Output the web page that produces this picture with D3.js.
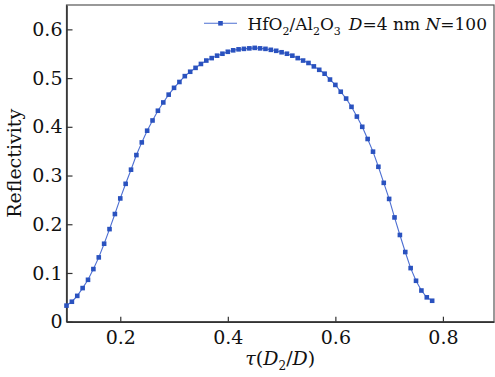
<!DOCTYPE html>
<html>
<head>
<meta charset="utf-8">
<script src="https://cdn.jsdelivr.net/npm/d3@7"></script>
<style>
  body { margin: 0; background: #fff; }
  text { font-family: "DejaVu Serif", "Liberation Serif", serif; }
</style>
</head>
<body>
<div id="chart"></div>
<script>
// data
const tau = [0.10, 0.11, 0.12, 0.13, 0.14, 0.15, 0.16, 0.17, 0.18, 0.19,
    0.20, 0.21, 0.22, 0.23, 0.24, 0.25, 0.26, 0.27, 0.28, 0.29,
    0.30, 0.31, 0.32, 0.33, 0.34, 0.35, 0.36, 0.37, 0.38, 0.39,
    0.40, 0.41, 0.42, 0.43, 0.44, 0.45, 0.46, 0.47, 0.48, 0.49,
    0.50, 0.51, 0.52, 0.53, 0.54, 0.55, 0.56, 0.57, 0.58, 0.59,
    0.60, 0.61, 0.62, 0.63, 0.64, 0.65, 0.66, 0.67, 0.68, 0.69,
    0.70, 0.71, 0.72, 0.73, 0.74, 0.75, 0.76, 0.77, 0.78];
const reflectivity = [0.033, 0.041, 0.053, 0.069, 0.086, 0.108, 0.132, 0.160, 0.190, 0.221,
    0.253, 0.283, 0.312, 0.342, 0.368, 0.392, 0.413, 0.433, 0.450, 0.466,
    0.480, 0.492, 0.504, 0.513, 0.521, 0.529, 0.536, 0.541, 0.546, 0.550,
    0.554, 0.557, 0.559, 0.560, 0.561, 0.562, 0.561, 0.560, 0.558, 0.556,
    0.553, 0.550, 0.546, 0.541, 0.536, 0.531, 0.524, 0.517, 0.509, 0.497,
    0.486, 0.472, 0.458, 0.441, 0.421, 0.400, 0.375, 0.349, 0.318, 0.285,
    0.252, 0.214, 0.178, 0.143, 0.110, 0.084, 0.064, 0.050, 0.043];
const xTicks = [0.2, 0.4, 0.6, 0.8];
const yTicks = [0, 0.1, 0.2, 0.3, 0.4, 0.5, 0.6];

const width = 495;
const height = 377;
const margin = {t: 5, b: 55.3, l: 66.5, r: 1};
const lineColor = "#4d6fd2";
const markColor = "#2a52bf";
const serif = "'DejaVu Serif', 'Liberation Serif', serif";

const svg = d3.select("#chart")
    .append("svg")
    .attr("width", width)
    .attr("height", height)
    .attr("viewBox", [0, 0, width, height]);

const data = tau.map((t, i) => ({x: t, y: reflectivity[i]}));

const xScale = d3.scaleLinear()
    .domain([0.1, 0.895])
    .range([margin.l, width - margin.r]);
const yScale = d3.scaleLinear()
    .domain([0, 0.65])
    .range([height - margin.b, margin.t]);

const fmt = d => d === 0 ? "0" : d3.format(".1f")(d);

//frame
svg.append("rect")
    .attr("x", margin.l)
    .attr("y", margin.t)
    .attr("width", width - margin.r - margin.l)
    .attr("height", height - margin.b - margin.t)
    .attr("fill", "none")
    .attr("stroke", "#555")
    .attr("stroke-width", 1.2);

//x axis
const x_axis = d3.axisBottom(xScale)
    .tickValues(xTicks)
    .tickFormat(fmt)
    .tickSizeInner(-5)
    .tickSizeOuter(0)
    .tickPadding(5);
const gx = svg.append("g")
    .attr("transform", `translate(0, ${height - margin.b})`)
    .call(x_axis);

//y axis
const y_axis = d3.axisLeft(yScale)
    .tickValues(yTicks)
    .tickFormat(fmt)
    .tickSizeInner(-6)
    .tickSizeOuter(0)
    .tickPadding(4);
const gy = svg.append("g")
    .attr("transform", `translate(${margin.l}, 0)`)
    .call(y_axis);

[gx, gy].forEach(g => {
    g.attr("font-family", serif).attr("font-size", 19);
    g.select(".domain").attr("stroke", "#333").attr("stroke-width", 1.6);
    g.selectAll(".tick line").attr("stroke", "#333").attr("stroke-width", 1.2);
    g.selectAll(".tick text").attr("fill", "#111");
});
gx.selectAll(".tick text").attr("dy", "0.9em");

//axis titles
svg.append("text")
    .attr("transform", "rotate(-90)")
    .attr("x", -(margin.t + height - margin.b) / 2)
    .attr("y", 21)
    .attr("text-anchor", "middle")
    .attr("font-size", "19px")
    .attr("fill", "#111")
    .text("Reflectivity");

const xt = svg.append("text")
    .attr("x", (margin.l + width - margin.r) / 2)
    .attr("y", 365)
    .attr("text-anchor", "middle")
    .attr("font-size", "19px")
    .attr("fill", "#111");
xt.append("tspan").attr("font-style", "italic").text("τ");
xt.append("tspan").text("(");
xt.append("tspan").attr("font-style", "italic").text("D");
xt.append("tspan").attr("font-size", "12px").attr("dy", 5).text("2");
xt.append("tspan").attr("dy", -5).text("/");
xt.append("tspan").attr("font-style", "italic").text("D");
xt.append("tspan").text(")");

//curve
const makeLine = d3.line()
    .x(d => xScale(d.x))
    .y(d => yScale(d.y));
svg.append("path")
    .attr("fill", "none")
    .attr("stroke", lineColor)
    .attr("stroke-width", 1.1)
    .attr("d", makeLine(data));

const ms = 4.6;
svg.selectAll(".pt")
    .data(data)
    .join("rect")
    .attr("class", "pt")
    .attr("x", d => xScale(d.x) - ms / 2)
    .attr("y", d => yScale(d.y) - ms / 2)
    .attr("width", ms)
    .attr("height", ms)
    .attr("fill", markColor);

//legend
const ly = 23.3;
svg.append("line")
    .attr("x1", 204)
    .attr("x2", 237)
    .attr("y1", ly)
    .attr("y2", ly)
    .attr("stroke", lineColor)
    .attr("stroke-width", 1.1);
svg.append("rect")
    .attr("x", 220.5 - ms / 2)
    .attr("y", ly - ms / 2)
    .attr("width", ms)
    .attr("height", ms)
    .attr("fill", markColor);

const lt = svg.append("text")
    .attr("x", 487)
    .attr("y", 30)
    .attr("text-anchor", "end")
    .attr("font-size", "17px")
    .attr("fill", "#111");
const sub = (s) => {
    lt.append("tspan").attr("font-size", "11px").attr("dy", 5).text(s);
};
lt.append("tspan").text("HfO");
sub("2");
lt.append("tspan").attr("dy", -5).text("/Al");
sub("2");
lt.append("tspan").attr("dy", -5).text("O");
sub("3");
lt.append("tspan").attr("dy", -5).attr("dx", 8).attr("font-style", "italic").text("D");
lt.append("tspan").text("=4 nm ");
lt.append("tspan").attr("font-style", "italic").text("N");
lt.append("tspan").text("=100");
</script>
</body>
</html>
